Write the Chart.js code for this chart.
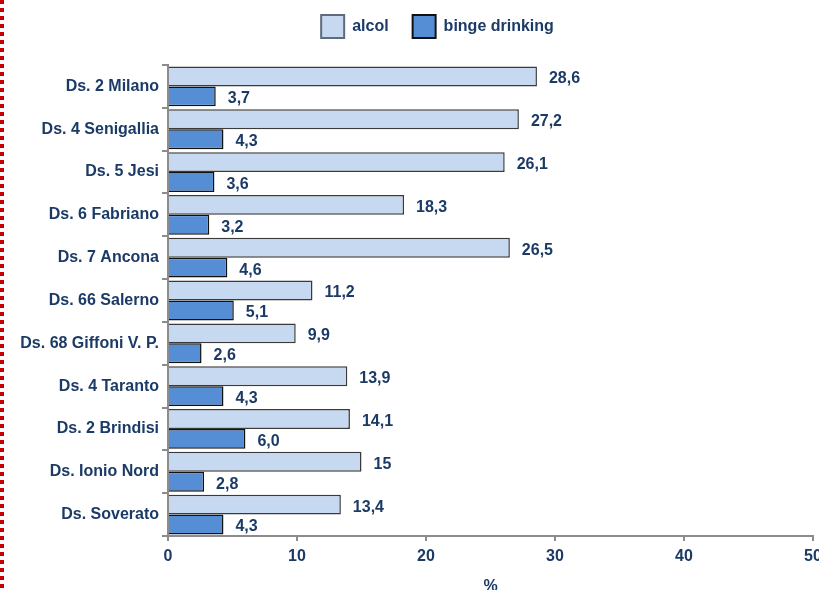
<!DOCTYPE html>
<html>
<head>
<meta charset="utf-8">
<script src="https://cdn.jsdelivr.net/npm/chart.js@4.4.1/dist/chart.umd.min.js"></script>
<style>
  html, body { margin: 0; padding: 0; background: #ffffff; width: 819px; height: 590px; overflow: hidden; position: relative; }
  #wrap { position: absolute; left: 0; top: -10px; width: 937px; height: 610px; }
  #redline { position: absolute; left: 0; top: 0; width: 4px; height: 590px; z-index: 5;
    background: repeating-linear-gradient(to bottom, #c80000 0px, #c80000 4px, transparent 4px, transparent 8px); }
</style>
</head>
<body>
<div id="redline"></div>
<div id="wrap"><canvas id="c" width="937" height="610"></canvas></div>
<script>
const categories = ['Ds. 2 Milano', 'Ds. 4 Senigallia', 'Ds. 5 Jesi', 'Ds. 6 Fabriano', 'Ds. 7 Ancona', 'Ds. 66 Salerno', 'Ds. 68 Giffoni V. P.', 'Ds. 4 Taranto', 'Ds. 2 Brindisi', 'Ds. Ionio Nord', 'Ds. Soverato'];
const alcolValues = [28.6, 27.2, 26.1, 18.3, 26.5, 11.2, 9.9, 13.9, 14.1, 15, 13.4];
const bingeValues = [3.7, 4.3, 3.6, 3.2, 4.6, 5.1, 2.6, 4.3, 6.0, 2.8, 4.3];
const alcolLabels = ['28,6', '27,2', '26,1', '18,3', '26,5', '11,2', '9,9', '13,9', '14,1', '15', '13,4'];
const bingeLabels = ['3,7', '4,3', '3,6', '3,2', '4,6', '5,1', '2,6', '4,3', '6,0', '2,8', '4,3'];
const seriesNames = ['alcol', 'binge drinking'];
const xTickValues = [0, 10, 20, 30, 40, 50];
const xAxisTitle = '%';

const NAVY = '#1b3a66';
const FONT = "'Liberation Sans', Arial, sans-serif";
const AXIS_GRAY = '#8c8c8c';

const legendTweak = {
  id: 'legendTweak',
  beforeLayout(chart) {
    const lg = chart.legend;
    if (lg && !lg._gapPatched) {
      const f = lg.fit;
      lg.fit = function () { f.call(this); this.height += 18; };
      lg._gapPatched = true;
    }
  },
  afterLayout(chart) {
    const lg = chart.legend;
    if (lg) { lg.left += 31; lg.right += 31; lg.top += 1; lg.bottom += 1; }
  }
};

const valueLabels = {
  id: 'valueLabels',
  afterDatasetsDraw(chart) {
    const ctx = chart.ctx;
    const lists = [alcolLabels, bingeLabels];
    ctx.save();
    ctx.font = 'bold 16px ' + FONT;
    ctx.fillStyle = NAVY;
    ctx.textAlign = 'left';
    ctx.textBaseline = 'middle';
    chart.data.datasets.forEach((ds, di) => {
      const meta = chart.getDatasetMeta(di);
      meta.data.forEach((el, i) => {
        ctx.fillText(lists[di][i], el.x + 12, el.y + 2.5);
      });
    });
    ctx.restore();
  }
};

new Chart(document.getElementById('c'), {
  type: 'bar',
  data: {
    labels: categories,
    datasets: [
      { label: seriesNames[0], data: alcolValues, backgroundColor: '#c6d9f1', borderColor: '#3a3a3a', borderWidth: 1.5 },
      { label: seriesNames[1], data: bingeValues, backgroundColor: '#558ed5', borderColor: '#111111', borderWidth: 1.5 }
    ]
  },
  options: {
    indexAxis: 'y',
    responsive: false,
    animation: false,
    devicePixelRatio: 1,
    layout: { padding: { left: 0, right: 124, top: 0, bottom: 4 } },
    datasets: { bar: { categoryPercentage: 0.93, barPercentage: 1.0 } },
    plugins: {
      tooltip: { enabled: false },
      legend: {
        position: 'top',
        align: 'center',
        labels: {
          boxWidth: 23,
          boxHeight: 23,
          padding: 24,
          color: NAVY,
          font: { family: FONT, size: 16, weight: 'bold' },
          generateLabels(chart) {
            const items = Chart.defaults.plugins.legend.labels.generateLabels(chart);
            items.forEach((it, i) => { it.lineWidth = 2; it.strokeStyle = i === 0 ? '#5f6b7a' : '#111111'; });
            return items;
          }
        }
      }
    },
    scales: {
      y: {
        afterFit(s) { s.width = 168; },
        ticks: { color: NAVY, font: { family: FONT, size: 16, weight: 'bold' }, padding: 3 },
        grid: { drawOnChartArea: false, drawTicks: true, tickLength: 6, color: AXIS_GRAY, lineWidth: 2 },
        border: { color: AXIS_GRAY, width: 2 }
      },
      x: {
        min: 0,
        max: 50,
        afterFit(s) { s.height = 60; },
        afterBuildTicks(s) { s.ticks = xTickValues.map(v => ({ value: v })); },
        ticks: { color: NAVY, font: { family: FONT, size: 16, weight: 'bold' }, padding: 6 },
        grid: { drawOnChartArea: false, drawTicks: true, tickLength: 5, color: AXIS_GRAY, lineWidth: 2 },
        border: { color: AXIS_GRAY, width: 2 },
        title: { display: true, text: xAxisTitle, color: NAVY, font: { family: FONT, size: 16, weight: 'bold' }, padding: 0 }
      }
    }
  },
  plugins: [legendTweak, valueLabels]
});
</script>
</body>
</html>
